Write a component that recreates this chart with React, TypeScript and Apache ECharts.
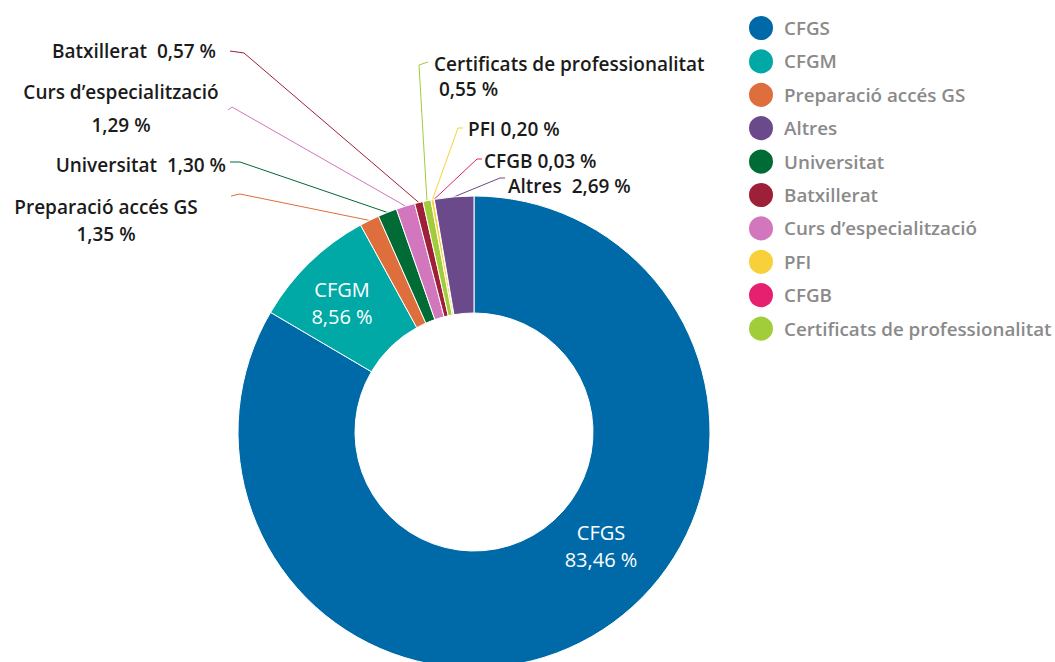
import React, { useEffect, useRef } from "react";
import * as echarts from "echarts";

const categories = [
  "CFGS",
  "CFGM",
  "Preparació accés GS",
  "Universitat",
  "Curs d’especialització",
  "Batxillerat",
  "Certificats de professionalitat",
  "PFI",
  "CFGB",
  "Altres",
];
const values = [83.46, 8.56, 1.35, 1.3, 1.29, 0.57, 0.55, 0.2, 0.03, 2.69];
const legendOrder = [
  "CFGS",
  "CFGM",
  "Preparació accés GS",
  "Altres",
  "Universitat",
  "Batxillerat",
  "Curs d’especialització",
  "PFI",
  "CFGB",
  "Certificats de professionalitat",
];

const colors: Record<string, string> = {
  CFGS: "#006aa9",
  CFGM: "#00a9a6",
  "Preparació accés GS": "#df6e3d",
  Altres: "#6b4a8c",
  Universitat: "#006b34",
  Batxillerat: "#9e1f38",
  "Curs d’especialització": "#d276bd",
  PFI: "#f8d13a",
  CFGB: "#e6206f",
  "Certificats de professionalitat": "#a2cd3a",
};

const FONT = "Open Sans";

// label style / placement (not data)
type LCfg = {
  x: number;
  y: number;
  align: string;
  mode: "inside" | "inline1" | "inline2" | "break" | "breakIndent";
  lh?: number;
  bend?: number[];
  end?: number[];
};
const labelCfg: Record<string, LCfg> = {
  CFGS: { x: 601, y: 546, align: "center", mode: "inside" },
  CFGM: { x: 342, y: 303, align: "center", mode: "inside" },
  "Preparació accés GS": { x: 106, y: 220, align: "center", mode: "break", lh: 27, bend: [240, 194], end: [231, 196] },
  Universitat: { x: 226, y: 165, align: "right", mode: "inline2", bend: [240, 162], end: [230, 162] },
  "Curs d’especialització": { x: 121, y: 108, align: "center", mode: "break", lh: 33, bend: [232, 107], end: [228, 110] },
  Batxillerat: { x: 216, y: 51, align: "right", mode: "inline2", bend: [244, 53], end: [230, 51] },
  "Certificats de professionalitat": { x: 434, y: 76, align: "left", mode: "breakIndent", lh: 25, bend: [419, 65], end: [428, 62] },
  PFI: { x: 468, y: 129, align: "left", mode: "inline1", bend: [458, 128], end: [463, 128] },
  CFGB: { x: 484, y: 161, align: "left", mode: "inline1", bend: [477, 159], end: [482, 159] },
  Altres: { x: 508, y: 186, align: "left", mode: "inline2", bend: [500, 178], end: [505, 178] },
};

const CX = 474;
const CY = 432;
const R_IN = 119;
const R_OUT = 236;

const fmt = (v: number) => v.toFixed(2).replace(".", ",") + " %";

export default function App() {
  const ref = useRef<HTMLDivElement>(null);
  useEffect(() => {
    if (!ref.current) return;
    const chart = echarts.init(ref.current, null, { renderer: "svg" });
    const total = values.reduce((a, b) => a + b, 0);
    const mids: number[] = [];
    let cum = 0;
    values.forEach((v) => {
      mids.push(((cum + v / 2) / total) * Math.PI * 2);
      cum += v;
    });

    const data = categories.map((name, i) => {
      const c = labelCfg[name];
      const inside = c.mode === "inside";
      return {
        name,
        value: values[i],
        itemStyle: { color: colors[name] },
        label: inside
          ? {
              position: "inside",
              color: "#ffffff",
              fontSize: 20,
              fontWeight: 500,
              lineHeight: 27,
            }
          : {
              position: "outside",
              color: "#1b1b1b",
              fontSize: 19,
              fontWeight: 600,
              lineHeight: c.lh || 22,
            },
        labelLine: { show: !inside, lineStyle: { color: colors[name], width: 1 } },
      };
    });

    chart.setOption({
      animation: false,
      backgroundColor: "#ffffff",
      legend: {
        orient: "vertical",
        left: 747,
        top: 14,
        padding: 0,
        itemWidth: 26,
        itemHeight: 26,
        itemGap: 5.4,
        icon: "circle",
        data: legendOrder,
        textStyle: {
          fontFamily: FONT,
          fontSize: 18.8,
          fontWeight: 600,
          color: "#8a8a8a",
          padding: [0, 0, 0, 5],
        },
      },
      series: [
        {
          type: "pie",
          center: [CX, CY],
          radius: [R_IN, R_OUT],
          startAngle: 90,
          clockwise: true,
          avoidLabelOverlap: false,
          itemStyle: { borderColor: "#ffffff", borderWidth: 1 },
          label: {
            fontFamily: FONT,
            formatter: (p: any) => {
              const c = labelCfg[p.name];
              const v = fmt(p.value);
              switch (c.mode) {
                case "inside":
                case "break":
                  return p.name + "\n" + v;
                case "breakIndent":
                  return p.name + "\n " + v;
                case "inline1":
                  return p.name + " " + v;
                default:
                  return p.name + "  " + v;
              }
            },
          },
          labelLine: { show: true, length: 10, length2: 10 },
          labelLayout: (p: any) => {
            const name = categories[p.dataIndex];
            const c = labelCfg[name];
            if (!c) return {};
            const res: any = { x: c.x, y: c.y, align: c.align, verticalAlign: "middle" };
            if (c.bend && c.end) {
              const a = mids[p.dataIndex];
              const s = [CX + R_OUT * Math.sin(a), CY - R_OUT * Math.cos(a)];
              res.labelLinePoints = [s, c.bend, c.end];
            }
            return res;
          },
          data,
        },
      ],
    });
    return () => chart.dispose();
  }, []);
  return (
    <div
      ref={ref}
      style={{ position: "absolute", left: 0, top: 0, width: 1055, height: 662 }}
    />
  );
}
